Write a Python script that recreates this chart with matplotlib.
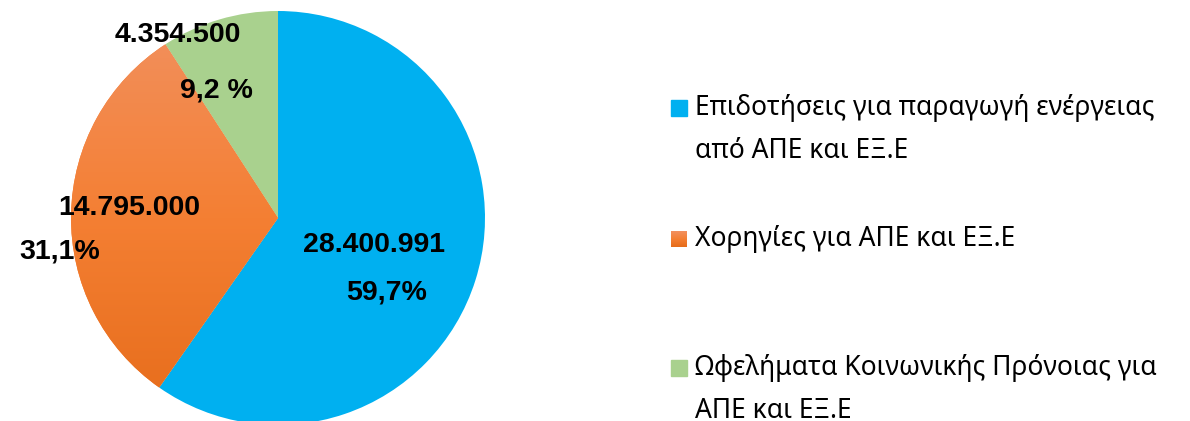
import matplotlib.pyplot as plt
import numpy as np
from matplotlib.patches import Rectangle
from matplotlib.colors import LinearSegmentedColormap

# data
categories = ['Επιδοτήσεις για παραγωγή ενέργειας\nαπό ΑΠΕ και ΕΞ.Ε',
              'Χορηγίες για ΑΠΕ και ΕΞ.Ε',
              'Ωφελήματα Κοινωνικής Πρόνοιας για\nΑΠΕ και ΕΞ.Ε']
values = [28400991, 14795000, 4354500]
value_labels = ['28.400.991', '14.795.000', '4.354.500']
pct_labels = ['59,7%', '31,1%', '9,2 %']

blue = '#00B0F0'
green = '#A9D18E'
orange_top = '#F29160'
orange_bot = '#E66C1A'

plt.rcParams['font.family'] = ['Noto Sans', 'DejaVu Sans']

fig = plt.figure(figsize=(11.9, 4.21), dpi=100)
W, H = 1190, 421
cx, cy, r = 278, 218, 207
ax = fig.add_axes([(cx - r) / W, (H - cy - r) / H, 2 * r / W, 2 * r / H])

wedges, _ = ax.pie(values, colors=[blue, '#F47F33', green], startangle=90,
                   counterclock=False, radius=1,
                   wedgeprops={'linewidth': 0})
ax.set_xlim(-1, 1)
ax.set_ylim(-1, 1)
ax.set_aspect('equal')
ax.axis('off')

# gradient on orange wedge
cmap = LinearSegmentedColormap.from_list('og', [orange_top, '#F47F33', orange_bot])
grad = np.linspace(0, 1, 256).reshape(-1, 1)
im = ax.imshow(grad, cmap=cmap, extent=[-1, 1, -1, 1], origin='upper',
               aspect='auto', zorder=wedges[1].get_zorder() + 0.1)
im.set_clip_path(wedges[1])

# data labels (positions in pie data units)
val_pos = [(0.464, -0.130), (-0.720, 0.048), (-0.483, 0.884)]
pct_pos = [(0.527, -0.362), (-1.053, -0.164), (-0.295, 0.618)]
lab_font = dict(family=['Liberation Sans', 'DejaVu Sans'], fontsize=20.5,
                fontweight='bold', color='black', ha='center', va='center', zorder=5)
for (x, y), t in zip(val_pos, value_labels):
    ax.text(x, y, t, **lab_font)
for (x, y), t in zip(pct_pos, pct_labels):
    ax.text(x, y, t, **lab_font)

# legend drawn by hand
leg_y = [108, 239, 368]
sw = 16
for i, (lab, yy) in enumerate(zip(categories, leg_y)):
    if i == 1:
        sax = fig.add_axes([671 / W, (H - yy - sw / 2) / H, sw / W, sw / H])
        sax.imshow(grad, cmap=cmap, aspect='auto')
        sax.axis('off')
    else:
        fig.patches.append(Rectangle((671 / W, (H - yy - sw / 2) / H), sw / W, sw / H,
                                     transform=fig.transFigure,
                                     color=[blue, None, green][i]))
    fig.text(695 / W, (H - yy + 14) / H, lab, ha='left', va='top',
             fontsize=19, linespacing=1.72, color='black')

fig.savefig('out.png', dpi=100)
